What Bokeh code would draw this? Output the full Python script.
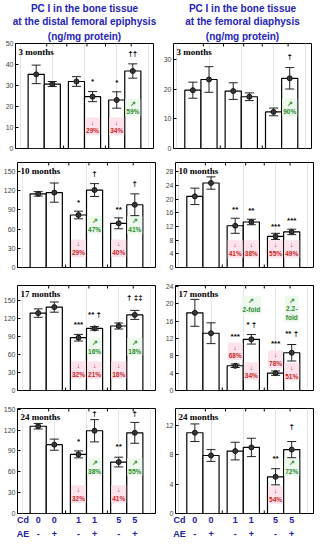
from bokeh.plotting import figure
from bokeh.models import Range1d, FixedTicker, LinearAxis, Whisker, TeeHead, ColumnDataSource, Title
from bokeh.layouts import column, row
from bokeh.embed import file_html
from bokeh.resources import INLINE
from bokeh.core.properties import value

# ---------------- data ----------------
x_pos = [1, 2, 3.5, 4.5, 6, 7]
cd_labels = ["0", "0", "1", "1", "5", "5"]
ae_labels = ["-", "+", "-", "+", "-", "+"]
ages = ["3 months", "10 months", "17 months", "24 months"]
titles = [["PC I in the bone tissue", "at the distal femoral epiphysis", "(ng/mg protein)"],
          ["PC I in the bone tissue", "at the femoral diaphysis", "(ng/mg protein)"]]

epi_3m_mean = [35.3, 30.7, 31.9, 24.7, 23.1, 36.9]
epi_3m_err = [4.4, 1.2, 2.3, 2.4, 3.9, 3.4]
epi_10m_mean = [115, 117, 82, 121, 69, 98]
epi_10m_err = [3.5, 15, 6, 10, 8.5, 17]
epi_17m_mean = [129, 139, 88, 103.5, 107.5, 126]
epi_17m_err = [7, 8.5, 5.5, 3, 5, 7.5]
epi_24m_mean = [125.5, 99, 85, 119, 74, 116]
epi_24m_err = [4, 8, 5, 16, 7, 15]

dia_3m_mean = [19.6, 23.2, 19.3, 17.4, 12.3, 23.6]
dia_3m_err = [2.7, 4.3, 2.8, 1.3, 1.3, 3.6]
dia_10m_mean = [20.8, 24.7, 12.2, 13.3, 9.1, 10.4]
dia_10m_err = [2.4, 1.8, 2.2, 0.8, 0.9, 0.8]
dia_17m_mean = [17.9, 13.2, 5.7, 11.8, 4.0, 8.7]
dia_17m_err = [3.1, 2.4, 0.4, 1.1, 0.5, 1.9]
dia_24m_mean = [11.0, 7.9, 8.5, 9.0, 5.0, 8.7]
dia_24m_err = [1.2, 0.8, 1.2, 1.25, 1.1, 1.1]

epi_ymax = [50, 164, 175, 151]
dia_ymax = [35.3, 30.7, 24.2, 14.3]
epi_yticks = [[0, 10, 20, 30, 40, 50], [0, 30, 60, 90, 120, 150],
              [0, 30, 60, 90, 120, 150], [0, 30, 60, 90, 120, 150]]
dia_yticks = [[0, 10, 20, 30], [0, 4, 8, 12, 16, 20, 24, 28],
              [0, 4, 8, 12, 16, 20, 24], [0, 4, 8, 12]]

# annotations: (bar index, y position, text, kind)
epi_notes = [
    [(3, 32.9, "*", "sig"), (4, 32.4, "*", "sig"), (5, 46.2, "††", "sig"),
     (3, 10.5, "↓\n29%", "dn"), (4, 10.5, "↓\n34%", "dn"), (5, 19.5, "↗\n59%", "up")],
    [(2, 105, "*", "sig"), (3, 150, "†", "sig"), (4, 93, "**", "sig"), (5, 135, "†", "sig"),
     (3, 66, "↗\n47%", "up"), (5, 66, "↗\n41%", "up"),
     (2, 30, "↓\n29%", "dn"), (4, 30, "↓\n40%", "dn")],
    [(2, 114, "***", "sig"), (3, 130, "** †", "sig"), (4, 114, "*", "sig"), (5, 158, "† ‡‡", "sig"),
     (3, 73, "↗\n16%", "up"), (5, 73, "↗\n18%", "up"),
     (2, 34, "↓\n32%", "dn"), (3, 34, "↓\n21%", "dn"), (4, 34, "↓\n18%", "dn")],
    [(2, 106, "*", "sig"), (3, 147, "†", "sig"), (4, 99, "**", "sig"), (5, 147, "†", "sig"),
     (3, 67, "↗\n38%", "up"), (5, 67, "↗\n55%", "up"),
     (2, 28, "↓\n32%", "dn"), (4, 28, "↓\n41%", "dn")],
]
dia_notes = [
    [(5, 31.6, "†", "sig"), (5, 13.8, "↗\n90%", "up")],
    [(2, 17.4, "**", "sig"), (3, 17.2, "**", "sig"), (4, 12.6, "***", "sig"), (5, 14.4, "***", "sig"),
     (2, 5.4, "↓\n41%", "dn"), (3, 5.4, "↓\n38%", "dn"), (4, 5.4, "↓\n55%", "dn"), (5, 5.4, "↓\n49%", "dn")],
    [(2, 12.9, "***", "sig"), (3, 15.6, "* †", "sig"), (4, 11.3, "***", "sig"), (5, 13.6, "** †", "sig"),
     (3, 19.7, "↗\n2-fold", "up"), (5, 18.8, "↗\n2.2-\nfold", "up"),
     (2, 9.0, "↓\n68%", "dn"), (3, 4.4, "↓\n34%", "dn"), (4, 7.2, "↓\n78%", "dn"), (5, 4.3, "↓\n51%", "dn")],
    [(4, 7.7, "**", "sig"), (5, 12.1, "†", "sig"), (5, 6.3, "↗\n72%", "up"), (4, 2.5, "↓\n54%", "dn")],
]

# ---------------- styling / layout ----------------
XR = [(-0.285, 8.285), (-0.2, 8.35)]
FRAME_W = 138
FRAME_H = 105
TOPS = [0, 7, 9, 9]
BOTS = [7, 9, 9, 1]
TITLE_BLUE = "#2424b4"
LABEL_BLUE = "#1c1ca0"
RED = "#cc2222"
GREEN = "#2b8a2b"
top_ticks = [1.65, 2.9, 4.15, 5.3, 6.9]
bot_ticks = [2.7, 5.3]


def label_axis(first, labels):
    ticks = [0.05] + x_pos
    overrides = {0.05: first}
    for xv, lab in zip(x_pos, labels):
        overrides[xv] = lab
    ax = LinearAxis(ticker=FixedTicker(ticks=ticks), major_label_overrides=overrides,
                    major_tick_line_color=None, minor_tick_line_color=None,
                    major_tick_in=0, major_tick_out=0, minor_tick_in=0, minor_tick_out=0,
                    axis_line_color=None, major_label_standoff=1,
                    major_label_text_font_size="9px", major_label_text_font_style="bold",
                    major_label_text_color=LABEL_BLUE,
                    major_label_text_font="Liberation Sans")
    return ax


def panel(col, r, mean, err, ymax, yticks, notes, title_lines=None):
    left = col == 0
    xr0, xr1 = XR[col]
    p = figure(frame_width=FRAME_W, frame_height=FRAME_H,
               x_range=Range1d(xr0, xr1), y_range=Range1d(0, ymax),
               x_axis_location=None, output_backend="svg", toolbar_location=None,
               min_border_left=15 if left else 16, min_border_right=4,
               min_border_top=TOPS[r], min_border_bottom=BOTS[r],
               background_fill_color="white", border_fill_color="white")
    if title_lines is not None:
        # add from the frame outward so that the first line ends on top
        for i, line in enumerate(reversed(title_lines)):
            p.add_layout(Title(text=line, align="center", text_font="Liberation Sans",
                               text_font_size="10px", text_font_style="bold",
                               text_color=TITLE_BLUE, standoff=4 if i == 0 else 0,
                               offset=0), "above")
    p.outline_line_color = "black"
    p.outline_line_width = 1
    p.outline_line_alpha = 1
    p.ygrid.visible = False
    ya = p.yaxis[0]
    ya.ticker = FixedTicker(ticks=yticks)
    ya.major_tick_in = 3
    ya.major_tick_out = 0
    ya.minor_tick_line_color = None
    ya.axis_line_color = None
    ya.major_label_text_font_size = "7px"
    ya.major_label_text_font = "Liberation Sans"
    ya.major_label_text_color = "#444444"
    ya.major_label_standoff = 2

    if r == 3:
        p.add_layout(label_axis("Cd", cd_labels), "below")
        p.add_layout(label_axis("AE", ae_labels), "below")

    # small inward tick marks on the top and bottom frame edges
    tl = ymax * 3.0 / FRAME_H
    p.segment(x0=top_ticks, y0=[ymax] * len(top_ticks), x1=top_ticks,
              y1=[ymax - tl] * len(top_ticks), line_color="black", line_width=1)
    p.segment(x0=bot_ticks, y0=[0] * len(bot_ticks), x1=bot_ticks,
              y1=[tl] * len(bot_ticks), line_color="black", line_width=1)

    src = ColumnDataSource(dict(x=x_pos, top=mean,
                                upper=[m + e for m, e in zip(mean, err)],
                                lower=[m - e for m, e in zip(mean, err)]))
    p.vbar(x="x", top="top", width=1, source=src, fill_color="white",
           line_color="black", line_width=1.2)
    wh = Whisker(base="x", upper="upper", lower="lower", source=src,
                 line_color="#222222", line_width=1,
                 upper_head=TeeHead(size=9, line_width=1, line_color="#222222"),
                 lower_head=TeeHead(size=9, line_width=1, line_color="#222222"),
                 level="overlay")
    p.add_layout(wh)
    p.scatter(x="x", y="top", source=src, size=5, fill_color="#444444",
              line_color="#111111", level="overlay")

    # age label
    p.text(x=[xr0], y=[ymax], text=[ages[r]], x_offset=3, y_offset=3,
           text_align="left", text_baseline="top",
           text_font=value("Liberation Serif"), text_font_style="bold",
           text_font_size="9px", text_color="black")

    for kind in ("sig", "dn", "up"):
        sel = [n for n in notes if n[3] == kind]
        if not sel:
            continue
        xs = [x_pos[n[0]] for n in sel]
        ys = [n[1] for n in sel]
        ts = [n[2] for n in sel]
        if kind == "sig":
            p.text(x=xs, y=ys, text=ts, text_align="center", text_baseline="middle",
                   y_offset=2, text_font=value("Liberation Sans"), text_font_style="bold",
                   text_font_size="8px", text_color="black")
        else:
            color = RED if kind == "dn" else GREEN
            bg = "#fde3ec" if kind == "dn" else "#ecf9ec"
            p.text(x=xs, y=ys, text=ts, text_align="center", text_baseline="middle",
                   text_font=value("Liberation Sans"), text_font_style="bold",
                   text_font_size="6.5px", text_color=color, text_line_height=1.25,
                   background_fill_color=bg, padding=1)
    return p


epi = [(epi_3m_mean, epi_3m_err), (epi_10m_mean, epi_10m_err),
       (epi_17m_mean, epi_17m_err), (epi_24m_mean, epi_24m_err)]
dia = [(dia_3m_mean, dia_3m_err), (dia_10m_mean, dia_10m_err),
       (dia_17m_mean, dia_17m_err), (dia_24m_mean, dia_24m_err)]

rows = []
for r in range(4):
    a = panel(0, r, epi[r][0], epi[r][1], epi_ymax[r], epi_yticks[r], epi_notes[r],
              title_lines=titles[0] if r == 0 else None)
    b = panel(1, r, dia[r][0], dia[r][1], dia_ymax[r], dia_yticks[r], dia_notes[r],
              title_lines=titles[1] if r == 0 else None)
    rows.append(row(a, b))

layout = column(*rows)
open("out.html", "w").write(file_html(layout, INLINE))
